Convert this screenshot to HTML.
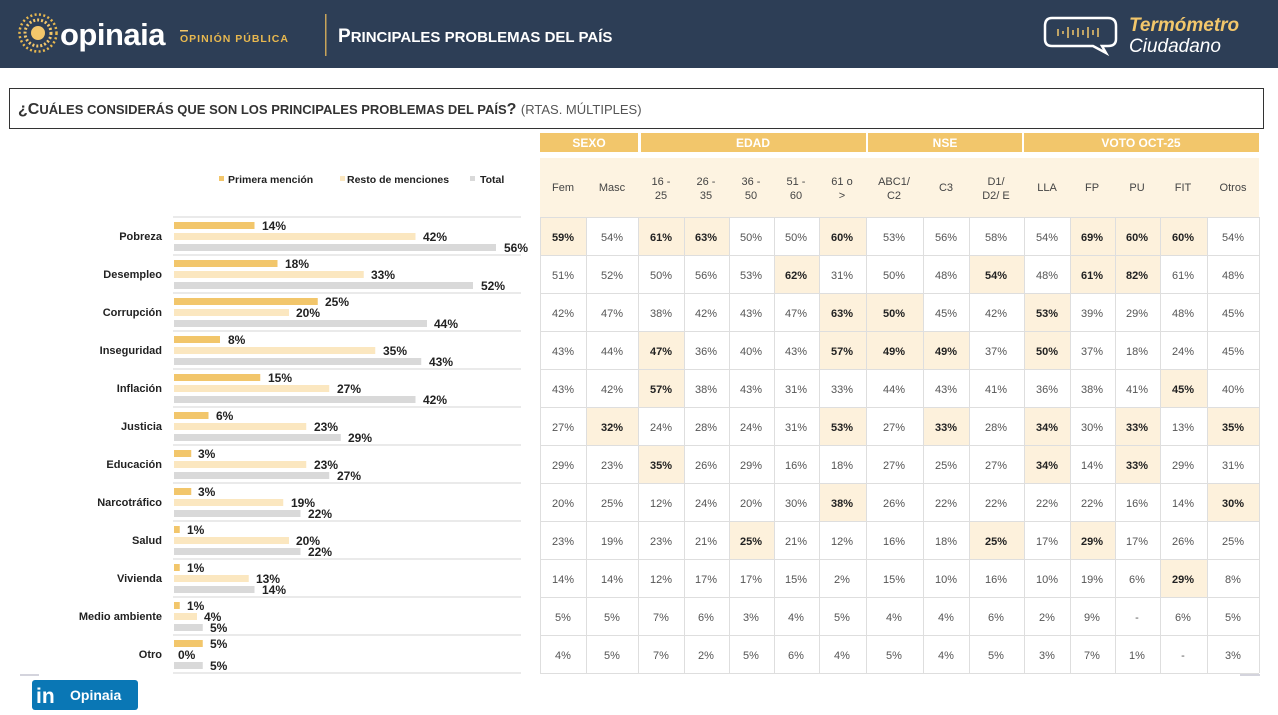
<!DOCTYPE html>
<html><head><meta charset="utf-8"><style>
html,body{margin:0;padding:0;background:#fff}
svg{display:block}
text{font-family:"Liberation Sans",sans-serif}
.c{font-size:11px;font-weight:bold;fill:#222;text-anchor:end}
.v{font-size:12px;font-weight:bold;fill:#222}
.t{font-size:11px;fill:#555;text-anchor:middle}
.tb{font-size:11px;fill:#222;font-weight:bold;text-anchor:middle}
.h{font-size:11px;fill:#444;text-anchor:middle}
.g{font-size:12px;fill:#fff;font-weight:bold;text-anchor:middle}
</style></head><body>
<svg width="1278" height="715" viewBox="0 0 1278 715" xmlns="http://www.w3.org/2000/svg">
<defs>
<g id="r1"><rect x="174" y="5" height="7" fill="#f2c66b"/></g>
</defs>
<!-- header -->
<rect x="0" y="0" width="1278" height="68" fill="#2d3e56"/>
<g fill="#f2c66b">
<circle cx="38" cy="33" r="7"/>
<circle cx="38" cy="33" r="13" fill="none" stroke="#f2c66b" stroke-width="3" stroke-dasharray="2 2"/>
<circle cx="38" cy="33" r="18.5" fill="none" stroke="#e8b84f" stroke-width="2.5" stroke-dasharray="2 2.4"/>
</g>
<text x="60" y="45" font-size="31" font-weight="bold" fill="#fff" style="letter-spacing:-0.5px">opinaia</text>
<rect x="180" y="30" width="8" height="1.5" fill="#f2c66b"/>
<text x="180" y="42" font-size="10.5" font-weight="bold" fill="#e8b84f" style="letter-spacing:1px">OPINIÓN PÚBLICA</text>
<rect x="325" y="14" width="1.5" height="42" fill="#c8a45a"/>
<text x="338" y="42" font-size="19" font-weight="bold" fill="#fff">P<tspan font-size="15">RINCIPALES PROBLEMAS DEL PAÍS</tspan></text>
<path d="M1052 18 H1108 Q1116 18 1116 26 V39 Q1116 46 1108 46 H1102 L1106 53 L1093 46 H1052 Q1045 46 1045 39 V26 Q1045 18 1052 18 Z" fill="none" stroke="#fff" stroke-width="2.5"/>
<g stroke="#f2c66b" stroke-width="1.5"><line x1="1058" y1="29" x2="1058" y2="36"/><line x1="1063" y1="31" x2="1063" y2="34"/><line x1="1068" y1="27" x2="1068" y2="38"/><line x1="1073" y1="30" x2="1073" y2="35"/><line x1="1078" y1="28" x2="1078" y2="37"/><line x1="1083" y1="30" x2="1083" y2="35"/><line x1="1088" y1="27" x2="1088" y2="38"/><line x1="1093" y1="30" x2="1093" y2="35"/><line x1="1098" y1="28" x2="1098" y2="37"/></g>
<text x="1129" y="31" font-size="19" font-weight="bold" font-style="italic" fill="#f2c66b">Termómetro</text>
<text x="1129" y="52" font-size="19" font-style="italic" fill="#fff">Ciudadano</text>
<!-- question -->
<rect x="9.5" y="88.5" width="1254" height="40" fill="none" stroke="#333" stroke-width="1"/>
<text x="18" y="114" font-size="16" font-weight="bold" fill="#333">¿C<tspan font-size="13">UÁLES CONSIDERÁS QUE SON LOS PRINCIPALES PROBLEMAS DEL PAÍS</tspan>? <tspan font-weight="normal" font-size="13" fill="#555">(RTAS. MÚLTIPLES)</tspan></text>
<!-- legend -->
<rect x="219" y="176" width="5" height="5" fill="#f2c66b"/><text x="228" y="183" font-size="10.5" font-weight="bold" fill="#222">Primera mención</text>
<rect x="340" y="176" width="5" height="5" fill="#fbe7c0"/><text x="347" y="183" font-size="10.5" font-weight="bold" fill="#222">Resto de menciones</text>
<rect x="470" y="176" width="5" height="5" fill="#d9d9d9"/><text x="480" y="183" font-size="10.5" font-weight="bold" fill="#222">Total</text>
<!-- chart rows -->
<g stroke="#ddd" stroke-width="1.2">
<line x1="173" y1="217" x2="521" y2="217"/><line x1="173" y1="255" x2="521" y2="255"/><line x1="173" y1="293" x2="521" y2="293"/><line x1="173" y1="331" x2="521" y2="331"/><line x1="173" y1="369" x2="521" y2="369"/><line x1="173" y1="407" x2="521" y2="407"/><line x1="173" y1="445" x2="521" y2="445"/><line x1="173" y1="483" x2="521" y2="483"/><line x1="173" y1="521" x2="521" y2="521"/><line x1="173" y1="559" x2="521" y2="559"/><line x1="173" y1="597" x2="521" y2="597"/><line x1="173" y1="635" x2="521" y2="635"/><line x1="173" y1="673" x2="521" y2="673"/>
</g>
<g transform="translate(0,217)"><text class="c" x="162" y="23">Pobreza</text>
<rect x="174" y="5" width="80.5" height="7" fill="#f2c66b"/><rect x="174" y="16" width="241.5" height="7" fill="#fbe7c0"/><rect x="174" y="27" width="322" height="7" fill="#d9d9d9"/>
<text class="v" x="262" y="13">14%</text><text class="v" x="423" y="24">42%</text><text class="v" x="504" y="35">56%</text></g>
<g transform="translate(0,255)"><text class="c" x="162" y="23">Desempleo</text>
<rect x="174" y="5" width="103.5" height="7" fill="#f2c66b"/><rect x="174" y="16" width="189.75" height="7" fill="#fbe7c0"/><rect x="174" y="27" width="299" height="7" fill="#d9d9d9"/>
<text class="v" x="285" y="13">18%</text><text class="v" x="371" y="24">33%</text><text class="v" x="481" y="35">52%</text></g>
<g transform="translate(0,293)"><text class="c" x="162" y="23">Corrupción</text>
<rect x="174" y="5" width="143.75" height="7" fill="#f2c66b"/><rect x="174" y="16" width="115" height="7" fill="#fbe7c0"/><rect x="174" y="27" width="253" height="7" fill="#d9d9d9"/>
<text class="v" x="325" y="13">25%</text><text class="v" x="296" y="24">20%</text><text class="v" x="434" y="35">44%</text></g>
<g transform="translate(0,331)"><text class="c" x="162" y="23">Inseguridad</text>
<rect x="174" y="5" width="46" height="7" fill="#f2c66b"/><rect x="174" y="16" width="201.25" height="7" fill="#fbe7c0"/><rect x="174" y="27" width="247.25" height="7" fill="#d9d9d9"/>
<text class="v" x="228" y="13">8%</text><text class="v" x="383" y="24">35%</text><text class="v" x="429" y="35">43%</text></g>
<g transform="translate(0,369)"><text class="c" x="162" y="23">Inflación</text>
<rect x="174" y="5" width="86.25" height="7" fill="#f2c66b"/><rect x="174" y="16" width="155.25" height="7" fill="#fbe7c0"/><rect x="174" y="27" width="241.5" height="7" fill="#d9d9d9"/>
<text class="v" x="268" y="13">15%</text><text class="v" x="337" y="24">27%</text><text class="v" x="423" y="35">42%</text></g>
<g transform="translate(0,407)"><text class="c" x="162" y="23">Justicia</text>
<rect x="174" y="5" width="34.5" height="7" fill="#f2c66b"/><rect x="174" y="16" width="132.25" height="7" fill="#fbe7c0"/><rect x="174" y="27" width="166.75" height="7" fill="#d9d9d9"/>
<text class="v" x="216" y="13">6%</text><text class="v" x="314" y="24">23%</text><text class="v" x="348" y="35">29%</text></g>
<g transform="translate(0,445)"><text class="c" x="162" y="23">Educación</text>
<rect x="174" y="5" width="17.25" height="7" fill="#f2c66b"/><rect x="174" y="16" width="132.25" height="7" fill="#fbe7c0"/><rect x="174" y="27" width="155.25" height="7" fill="#d9d9d9"/>
<text class="v" x="198" y="13">3%</text><text class="v" x="314" y="24">23%</text><text class="v" x="337" y="35">27%</text></g>
<g transform="translate(0,483)"><text class="c" x="162" y="23">Narcotráfico</text>
<rect x="174" y="5" width="17.25" height="7" fill="#f2c66b"/><rect x="174" y="16" width="109.25" height="7" fill="#fbe7c0"/><rect x="174" y="27" width="126.5" height="7" fill="#d9d9d9"/>
<text class="v" x="198" y="13">3%</text><text class="v" x="291" y="24">19%</text><text class="v" x="308" y="35">22%</text></g>
<g transform="translate(0,521)"><text class="c" x="162" y="23">Salud</text>
<rect x="174" y="5" width="5.75" height="7" fill="#f2c66b"/><rect x="174" y="16" width="115" height="7" fill="#fbe7c0"/><rect x="174" y="27" width="126.5" height="7" fill="#d9d9d9"/>
<text class="v" x="187" y="13">1%</text><text class="v" x="296" y="24">20%</text><text class="v" x="308" y="35">22%</text></g>
<g transform="translate(0,559)"><text class="c" x="162" y="23">Vivienda</text>
<rect x="174" y="5" width="5.75" height="7" fill="#f2c66b"/><rect x="174" y="16" width="74.75" height="7" fill="#fbe7c0"/><rect x="174" y="27" width="80.5" height="7" fill="#d9d9d9"/>
<text class="v" x="187" y="13">1%</text><text class="v" x="256" y="24">13%</text><text class="v" x="262" y="35">14%</text></g>
<g transform="translate(0,597)"><text class="c" x="162" y="23">Medio ambiente</text>
<rect x="174" y="5" width="5.75" height="7" fill="#f2c66b"/><rect x="174" y="16" width="23" height="7" fill="#fbe7c0"/><rect x="174" y="27" width="28.75" height="7" fill="#d9d9d9"/>
<text class="v" x="187" y="13">1%</text><text class="v" x="204" y="24">4%</text><text class="v" x="210" y="35">5%</text></g>
<g transform="translate(0,635)"><text class="c" x="162" y="23">Otro</text>
<rect x="174" y="5" width="28.75" height="7" fill="#f2c66b"/><rect x="174" y="27" width="28.75" height="7" fill="#d9d9d9"/>
<text class="v" x="210" y="13">5%</text><text class="v" x="178" y="24">0%</text><text class="v" x="210" y="35">5%</text></g>
<!-- table header -->
<rect x="540" y="133" width="98" height="19" fill="#f2c66b"/>
<rect x="641" y="133" width="225" height="19" fill="#f2c66b"/>
<rect x="868" y="133" width="154" height="19" fill="#f2c66b"/>
<rect x="1024" y="133" width="235" height="19" fill="#f2c66b"/>
<text class="g" x="589" y="147">SEXO</text><text class="g" x="753" y="147">EDAD</text><text class="g" x="945" y="147">NSE</text><text class="g" x="1141" y="147">VOTO OCT-25</text>
<rect x="540" y="158" width="719" height="59" fill="#fdf3e1"/>
<text class="h" x="563" y="191">Fem</text><text class="h" x="612" y="191">Masc</text>
<text class="h" x="661" y="185">16 -</text><text class="h" x="661" y="199">25</text>
<text class="h" x="706" y="185">26 -</text><text class="h" x="706" y="199">35</text>
<text class="h" x="751" y="185">36 -</text><text class="h" x="751" y="199">50</text>
<text class="h" x="796" y="185">51 -</text><text class="h" x="796" y="199">60</text>
<text class="h" x="842" y="185">61 o</text><text class="h" x="842" y="199">&gt;</text>
<text class="h" x="894" y="185">ABC1/</text><text class="h" x="894" y="199">C2</text>
<text class="h" x="946" y="191">C3</text>
<text class="h" x="996" y="185">D1/</text><text class="h" x="996" y="199">D2/ E</text>
<text class="h" x="1047" y="191">LLA</text><text class="h" x="1092" y="191">FP</text><text class="h" x="1137" y="191">PU</text><text class="h" x="1183" y="191">FIT</text><text class="h" x="1233" y="191">Otros</text>
<!-- highlights -->
<g fill="#fdf1dc">
<rect x="540" y="218" width="46" height="37"/><rect x="638" y="218" width="46" height="37"/><rect x="684" y="218" width="45" height="37"/><rect x="819" y="218" width="47" height="37"/><rect x="1070" y="218" width="45" height="37"/><rect x="1115" y="218" width="45" height="37"/><rect x="1160" y="218" width="47" height="37"/>
<rect x="774" y="256" width="45" height="37"/><rect x="969" y="256" width="55" height="37"/><rect x="1070" y="256" width="45" height="37"/><rect x="1115" y="256" width="45" height="37"/>
<rect x="819" y="294" width="47" height="37"/><rect x="866" y="294" width="57" height="37"/><rect x="1024" y="294" width="46" height="37"/>
<rect x="638" y="332" width="46" height="37"/><rect x="819" y="332" width="47" height="37"/><rect x="866" y="332" width="57" height="37"/><rect x="923" y="332" width="46" height="37"/><rect x="1024" y="332" width="46" height="37"/>
<rect x="638" y="370" width="46" height="37"/><rect x="1160" y="370" width="47" height="37"/>
<rect x="586" y="408" width="52" height="37"/><rect x="819" y="408" width="47" height="37"/><rect x="923" y="408" width="46" height="37"/><rect x="1024" y="408" width="46" height="37"/><rect x="1115" y="408" width="45" height="37"/><rect x="1207" y="408" width="52" height="37"/>
<rect x="638" y="446" width="46" height="37"/><rect x="1024" y="446" width="46" height="37"/><rect x="1115" y="446" width="45" height="37"/>
<rect x="819" y="484" width="47" height="37"/><rect x="1207" y="484" width="52" height="37"/>
<rect x="729" y="522" width="45" height="37"/><rect x="969" y="522" width="55" height="37"/><rect x="1070" y="522" width="45" height="37"/>
<rect x="1160" y="560" width="47" height="37"/>
</g>
<!-- grid -->
<g stroke="#dedede" stroke-width="1">
<line x1="540" y1="217.5" x2="1259" y2="217.5"/><line x1="540" y1="255.5" x2="1259" y2="255.5"/><line x1="540" y1="293.5" x2="1259" y2="293.5"/><line x1="540" y1="331.5" x2="1259" y2="331.5"/><line x1="540" y1="369.5" x2="1259" y2="369.5"/><line x1="540" y1="407.5" x2="1259" y2="407.5"/><line x1="540" y1="445.5" x2="1259" y2="445.5"/><line x1="540" y1="483.5" x2="1259" y2="483.5"/><line x1="540" y1="521.5" x2="1259" y2="521.5"/><line x1="540" y1="559.5" x2="1259" y2="559.5"/><line x1="540" y1="597.5" x2="1259" y2="597.5"/><line x1="540" y1="635.5" x2="1259" y2="635.5"/><line x1="540" y1="673.5" x2="1259" y2="673.5"/>
<line x1="540.5" y1="217" x2="540.5" y2="673"/><line x1="586.5" y1="217" x2="586.5" y2="673"/><line x1="638.5" y1="217" x2="638.5" y2="673"/><line x1="684.5" y1="217" x2="684.5" y2="673"/><line x1="729.5" y1="217" x2="729.5" y2="673"/><line x1="774.5" y1="217" x2="774.5" y2="673"/><line x1="819.5" y1="217" x2="819.5" y2="673"/><line x1="866.5" y1="217" x2="866.5" y2="673"/><line x1="923.5" y1="217" x2="923.5" y2="673"/><line x1="969.5" y1="217" x2="969.5" y2="673"/><line x1="1024.5" y1="217" x2="1024.5" y2="673"/><line x1="1070.5" y1="217" x2="1070.5" y2="673"/><line x1="1115.5" y1="217" x2="1115.5" y2="673"/><line x1="1160.5" y1="217" x2="1160.5" y2="673"/><line x1="1207.5" y1="217" x2="1207.5" y2="673"/><line x1="1259.5" y1="217" x2="1259.5" y2="673"/>
</g>
<!-- table data -->
<g transform="translate(0,241)">
<text class="tb" x="563">59%</text><text class="t" x="612">54%</text><text class="tb" x="661">61%</text><text class="tb" x="706">63%</text><text class="t" x="751">50%</text><text class="t" x="796">50%</text><text class="tb" x="842">60%</text><text class="t" x="894">53%</text><text class="t" x="946">56%</text><text class="t" x="996">58%</text><text class="t" x="1047">54%</text><text class="tb" x="1092">69%</text><text class="tb" x="1137">60%</text><text class="tb" x="1183">60%</text><text class="t" x="1233">54%</text></g>
<g transform="translate(0,279)">
<text class="t" x="563">51%</text><text class="t" x="612">52%</text><text class="t" x="661">50%</text><text class="t" x="706">56%</text><text class="t" x="751">53%</text><text class="tb" x="796">62%</text><text class="t" x="842">31%</text><text class="t" x="894">50%</text><text class="t" x="946">48%</text><text class="tb" x="996">54%</text><text class="t" x="1047">48%</text><text class="tb" x="1092">61%</text><text class="tb" x="1137">82%</text><text class="t" x="1183">61%</text><text class="t" x="1233">48%</text></g>
<g transform="translate(0,317)">
<text class="t" x="563">42%</text><text class="t" x="612">47%</text><text class="t" x="661">38%</text><text class="t" x="706">42%</text><text class="t" x="751">43%</text><text class="t" x="796">47%</text><text class="tb" x="842">63%</text><text class="tb" x="894">50%</text><text class="t" x="946">45%</text><text class="t" x="996">42%</text><text class="tb" x="1047">53%</text><text class="t" x="1092">39%</text><text class="t" x="1137">29%</text><text class="t" x="1183">48%</text><text class="t" x="1233">45%</text></g>
<g transform="translate(0,355)">
<text class="t" x="563">43%</text><text class="t" x="612">44%</text><text class="tb" x="661">47%</text><text class="t" x="706">36%</text><text class="t" x="751">40%</text><text class="t" x="796">43%</text><text class="tb" x="842">57%</text><text class="tb" x="894">49%</text><text class="tb" x="946">49%</text><text class="t" x="996">37%</text><text class="tb" x="1047">50%</text><text class="t" x="1092">37%</text><text class="t" x="1137">18%</text><text class="t" x="1183">24%</text><text class="t" x="1233">45%</text></g>
<g transform="translate(0,393)">
<text class="t" x="563">43%</text><text class="t" x="612">42%</text><text class="tb" x="661">57%</text><text class="t" x="706">38%</text><text class="t" x="751">43%</text><text class="t" x="796">31%</text><text class="t" x="842">33%</text><text class="t" x="894">44%</text><text class="t" x="946">43%</text><text class="t" x="996">41%</text><text class="t" x="1047">36%</text><text class="t" x="1092">38%</text><text class="t" x="1137">41%</text><text class="tb" x="1183">45%</text><text class="t" x="1233">40%</text></g>
<g transform="translate(0,431)">
<text class="t" x="563">27%</text><text class="tb" x="612">32%</text><text class="t" x="661">24%</text><text class="t" x="706">28%</text><text class="t" x="751">24%</text><text class="t" x="796">31%</text><text class="tb" x="842">53%</text><text class="t" x="894">27%</text><text class="tb" x="946">33%</text><text class="t" x="996">28%</text><text class="tb" x="1047">34%</text><text class="t" x="1092">30%</text><text class="tb" x="1137">33%</text><text class="t" x="1183">13%</text><text class="tb" x="1233">35%</text></g>
<g transform="translate(0,469)">
<text class="t" x="563">29%</text><text class="t" x="612">23%</text><text class="tb" x="661">35%</text><text class="t" x="706">26%</text><text class="t" x="751">29%</text><text class="t" x="796">16%</text><text class="t" x="842">18%</text><text class="t" x="894">27%</text><text class="t" x="946">25%</text><text class="t" x="996">27%</text><text class="tb" x="1047">34%</text><text class="t" x="1092">14%</text><text class="tb" x="1137">33%</text><text class="t" x="1183">29%</text><text class="t" x="1233">31%</text></g>
<g transform="translate(0,507)">
<text class="t" x="563">20%</text><text class="t" x="612">25%</text><text class="t" x="661">12%</text><text class="t" x="706">24%</text><text class="t" x="751">20%</text><text class="t" x="796">30%</text><text class="tb" x="842">38%</text><text class="t" x="894">26%</text><text class="t" x="946">22%</text><text class="t" x="996">22%</text><text class="t" x="1047">22%</text><text class="t" x="1092">22%</text><text class="t" x="1137">16%</text><text class="t" x="1183">14%</text><text class="tb" x="1233">30%</text></g>
<g transform="translate(0,545)">
<text class="t" x="563">23%</text><text class="t" x="612">19%</text><text class="t" x="661">23%</text><text class="t" x="706">21%</text><text class="tb" x="751">25%</text><text class="t" x="796">21%</text><text class="t" x="842">12%</text><text class="t" x="894">16%</text><text class="t" x="946">18%</text><text class="tb" x="996">25%</text><text class="t" x="1047">17%</text><text class="tb" x="1092">29%</text><text class="t" x="1137">17%</text><text class="t" x="1183">26%</text><text class="t" x="1233">25%</text></g>
<g transform="translate(0,583)">
<text class="t" x="563">14%</text><text class="t" x="612">14%</text><text class="t" x="661">12%</text><text class="t" x="706">17%</text><text class="t" x="751">17%</text><text class="t" x="796">15%</text><text class="t" x="842">2%</text><text class="t" x="894">15%</text><text class="t" x="946">10%</text><text class="t" x="996">16%</text><text class="t" x="1047">10%</text><text class="t" x="1092">19%</text><text class="t" x="1137">6%</text><text class="tb" x="1183">29%</text><text class="t" x="1233">8%</text></g>
<g transform="translate(0,621)">
<text class="t" x="563">5%</text><text class="t" x="612">5%</text><text class="t" x="661">7%</text><text class="t" x="706">6%</text><text class="t" x="751">3%</text><text class="t" x="796">4%</text><text class="t" x="842">5%</text><text class="t" x="894">4%</text><text class="t" x="946">4%</text><text class="t" x="996">6%</text><text class="t" x="1047">2%</text><text class="t" x="1092">9%</text><text class="t" x="1137">-</text><text class="t" x="1183">6%</text><text class="t" x="1233">5%</text></g>
<g transform="translate(0,659)">
<text class="t" x="563">4%</text><text class="t" x="612">5%</text><text class="t" x="661">7%</text><text class="t" x="706">2%</text><text class="t" x="751">5%</text><text class="t" x="796">6%</text><text class="t" x="842">4%</text><text class="t" x="894">5%</text><text class="t" x="946">4%</text><text class="t" x="996">5%</text><text class="t" x="1047">3%</text><text class="t" x="1092">7%</text><text class="t" x="1137">1%</text><text class="t" x="1183">-</text><text class="t" x="1233">3%</text></g>
<!-- footer -->
<line x1="20" y1="675" x2="39" y2="675" stroke="#aab" stroke-width="1"/>
<line x1="1240" y1="675" x2="1260" y2="675" stroke="#aab" stroke-width="1"/>
<rect x="32" y="680" width="106" height="30" rx="3" fill="#0a77b5"/>
<text x="36" y="703" font-size="21" font-weight="bold" fill="#fff">in</text>
<text x="70" y="700" font-size="14" font-weight="bold" fill="#fff">Opinaia</text>
</svg>
</body></html>
